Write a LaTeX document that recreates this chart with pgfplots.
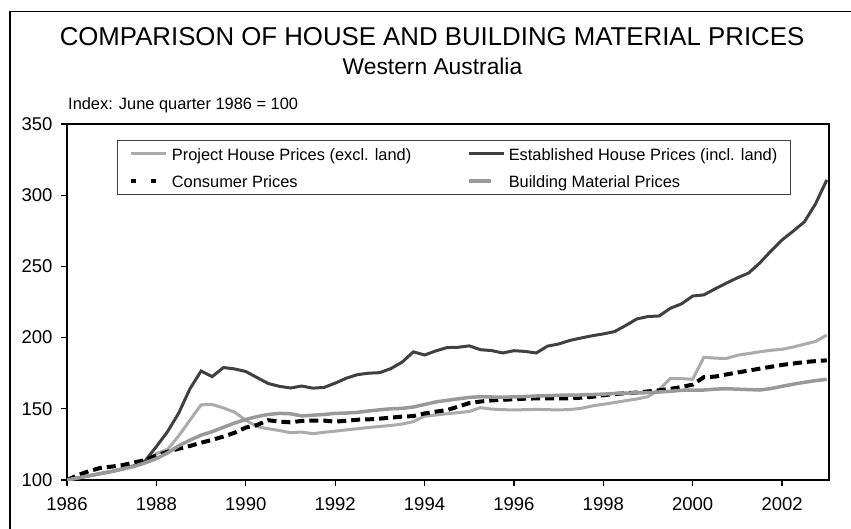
\documentclass[border=0pt]{standalone}
\usepackage{pgfplots}
\pgfplotsset{compat=1.18}
\usepackage{pgfplotstable}
\usepackage{fontspec}
\setmainfont{Liberation Sans}
\definecolor{estab}{HTML}{404040}
\definecolor{proj}{HTML}{ABABAB}
\definecolor{bmat}{HTML}{999999}
\pgfplotsset{
  longlegend/.style={legend image code/.code={\draw[##1, line cap=butt] (0pt,0pt) -- (35pt,0pt);}},
  consumerlegend/.style={legend image code/.code={\draw[##1, line cap=butt, dash pattern=on 5pt off 15pt] (0pt,0pt) -- (25pt,0pt); \path (35pt,0pt);}},
  bmlegend/.style={legend image code/.code={\draw[##1, line cap=butt] (0pt,0pt) -- (22pt,0pt); \path (35pt,0pt);}},
}

\pgfplotstableread{
x v
1986.00 100
1986.25 101.5
1986.50 103
1986.75 104.5
1987.00 106
1987.25 107.5
1987.50 109.5
1987.75 112.5
1988.00 118.5
1988.25 121.5
1988.50 131
1988.75 142
1989.00 152.8
1989.25 153
1989.50 150.6
1989.75 147.6
1990.00 142
1990.25 137.5
1990.50 136
1990.75 134.8
1991.00 133.2
1991.25 133.7
1991.50 132.5
1991.75 133.5
1992.00 134.3
1992.25 135.2
1992.50 136
1992.75 136.9
1993.00 137.6
1993.25 138.3
1993.50 139.3
1993.75 141
1994.00 144.8
1994.25 145.6
1994.50 146.5
1994.75 147.3
1995.00 148.1
1995.25 150.8
1995.50 149.8
1995.75 149.4
1996.00 149.2
1996.25 149.4
1996.50 149.6
1996.75 149.4
1997.00 149.2
1997.25 149.5
1997.50 150.3
1997.75 152
1998.00 153.2
1998.25 154.4
1998.50 155.7
1998.75 156.9
1999.00 158.5
1999.25 163.5
1999.50 171.3
1999.75 171.2
2000.00 170.7
2000.25 186.2
2000.50 185.6
2000.75 185.3
2001.00 187.6
2001.25 188.8
2001.50 190
2001.75 191.1
2002.00 191.8
2002.25 193.4
2002.50 195.4
2002.75 197.3
2003.00 201.8
}\project

\pgfplotstableread{
x v
1986.00 100
1986.25 101.5
1986.50 103
1986.75 104.5
1987.00 106
1987.25 108
1987.50 110
1987.75 113.5
1988.00 123.5
1988.25 134
1988.50 147
1988.75 164
1989.00 176.5
1989.25 172.6
1989.50 179
1989.75 178
1990.00 176.2
1990.25 172
1990.50 167.8
1990.75 165.8
1991.00 164.6
1991.25 166
1991.50 164.5
1991.75 165
1992.00 168
1992.25 171.5
1992.50 174
1992.75 175
1993.00 175.4
1993.25 178.3
1993.50 182.8
1993.75 190
1994.00 187.8
1994.25 190.6
1994.50 193
1994.75 193.2
1995.00 194.2
1995.25 191.5
1995.50 190.9
1995.75 189.2
1996.00 190.8
1996.25 190.3
1996.50 189.2
1996.75 194
1997.00 195.5
1997.25 198
1997.50 199.7
1997.75 201.3
1998.00 202.6
1998.25 204.2
1998.50 208.5
1998.75 213.1
1999.00 214.8
1999.25 215.2
1999.50 220.6
1999.75 223.7
2000.00 229.2
2000.25 230
2000.50 234.2
2000.75 238.2
2001.00 242
2001.25 245.3
2001.50 252.4
2001.75 260.8
2002.00 268.6
2002.25 274.8
2002.50 281.3
2002.75 294
2003.00 310.7
}\established

\pgfplotstableread{
x v
1986.00 100
1986.25 103.5
1986.50 106.3
1986.75 108.5
1987.00 109.4
1987.25 110.5
1987.50 112.3
1987.75 114
1988.00 117.2
1988.25 119.8
1988.50 122
1988.75 123.9
1989.00 126.2
1989.25 128.2
1989.50 130.5
1989.75 133.2
1990.00 136.8
1990.25 138.6
1990.50 142
1990.75 141
1991.00 140.5
1991.25 141.5
1991.50 141.7
1991.75 141.7
1992.00 141
1992.25 141.6
1992.50 142.3
1992.75 142.6
1993.00 143.1
1993.25 143.8
1993.50 144.5
1993.75 144.9
1994.00 146.7
1994.25 148
1994.50 149.1
1994.75 151.5
1995.00 154
1995.25 155.1
1995.50 155.9
1995.75 156.3
1996.00 156.7
1996.25 157.1
1996.50 157.3
1996.75 157.3
1997.00 157.4
1997.25 157.4
1997.50 157.8
1997.75 158.4
1998.00 159.5
1998.25 160.4
1998.50 160.9
1998.75 161.4
1999.00 162.2
1999.25 163
1999.50 164
1999.75 165.3
2000.00 167
2000.25 172.2
2000.50 172.6
2000.75 174.1
2001.00 175.5
2001.25 176.8
2001.50 178.2
2001.75 179.5
2002.00 180.8
2002.25 181.8
2002.50 182.8
2002.75 183.5
2003.00 184
}\consumer

\pgfplotstableread{
x v
1986.00 100
1986.25 101.5
1986.50 103
1986.75 104.5
1987.00 106
1987.25 107.8
1987.50 109.6
1987.75 112
1988.00 115
1988.25 119
1988.50 124
1988.75 128
1989.00 131.5
1989.25 134
1989.50 137
1989.75 140
1990.00 142.5
1990.25 144.5
1990.50 146
1990.75 146.8
1991.00 146.5
1991.25 145
1991.50 145.5
1991.75 146
1992.00 146.8
1992.25 147
1992.50 147.5
1992.75 148.5
1993.00 149.3
1993.25 150
1993.50 150.3
1993.75 151.3
1994.00 153
1994.25 154.8
1994.50 155.9
1994.75 157
1995.00 158
1995.25 158.5
1995.50 158.3
1995.75 158.1
1996.00 158.4
1996.25 158.6
1996.50 159
1996.75 159.2
1997.00 159.5
1997.25 159.6
1997.50 159.7
1997.75 160
1998.00 160.3
1998.25 160.7
1998.50 161
1998.75 161.2
1999.00 161.3
1999.25 161.8
1999.50 162.3
1999.75 163
2000.00 163.2
2000.25 163.2
2000.50 163.8
2000.75 164.1
2001.00 163.8
2001.25 163.5
2001.50 163.2
2001.75 164.2
2002.00 165.8
2002.25 167.3
2002.50 168.6
2002.75 169.8
2003.00 170.7
}\building

\begin{document}
\begin{tikzpicture}[x=1pt,y=1pt]
\useasboundingbox (0,0) rectangle (851,528);
\draw[line width=1.3pt, black] (10,-5) -- (10,516.3) -- (860,516.3);
\node[anchor=base, inner sep=0pt, font=\fontsize{25.8}{30}\selectfont] at (432,482.3) {COMPARISON OF HOUSE AND BUILDING MATERIAL PRICES};
\node[anchor=base, inner sep=0pt, font=\fontsize{22.8}{26}\selectfont] at (432.5,453.7) {Western Australia};
\node[anchor=base west, inner sep=0pt, font=\fontsize{16.4}{19}\selectfont] at (68,418) {Index: June quarter 1986 = 100};
\begin{axis}[
  scale only axis,
  width=762pt, height=356pt,
  at={(67pt,48pt)}, anchor=south west,
  xmin=1986, xmax=2003.05,
  ymin=100, ymax=350,
  xtick={1986,1988,...,2002},
  ytick={100,150,...,350},
  tick align=outside,
  tick pos=left,
  major tick length=6pt,
  axis line style={line width=1.2pt, black},
  every tick/.style={line width=1.2pt, black},
  /pgf/number format/assume math mode=true,
  /pgf/number format/1000 sep={},
  tick label style={font=\fontsize{18.5}{21}\selectfont},
  xticklabel style={yshift=-8pt},
  yticklabel style={xshift=-5pt},
  legend columns=2,
  legend cell align=left,
  longlegend,
  legend style={at={(0.0656,0.955)}, anchor=north west,
    draw=black!75, line width=0.8pt,
    font=\fontsize{16.4}{19}\selectfont,
    inner xsep=12pt, inner ysep=3pt,
    row sep=6pt,
    nodes={inner sep=1.5pt, text height=16pt, text depth=2pt},
    /tikz/every odd column/.append style={column sep=2pt},
    /tikz/every even column/.append style={column sep=54pt}},
]
\addplot[proj, line width=3pt] table[x=x,y=v] {\project};
\addlegendentry{Project House Prices (excl. land)}
\addplot[estab, line width=3pt] table[x=x,y=v] {\established};
\addlegendentry{Established House Prices (incl. land)}
\addplot[black, line width=4pt, dash pattern=on 9pt off 5pt, consumerlegend] table[x=x,y=v] {\consumer};
\addlegendentry{Consumer Prices}
\addplot[bmat, line width=3.5pt, bmlegend] table[x=x,y=v] {\building};
\addlegendentry{Building Material Prices}
\end{axis}
\end{tikzpicture}
\end{document}
